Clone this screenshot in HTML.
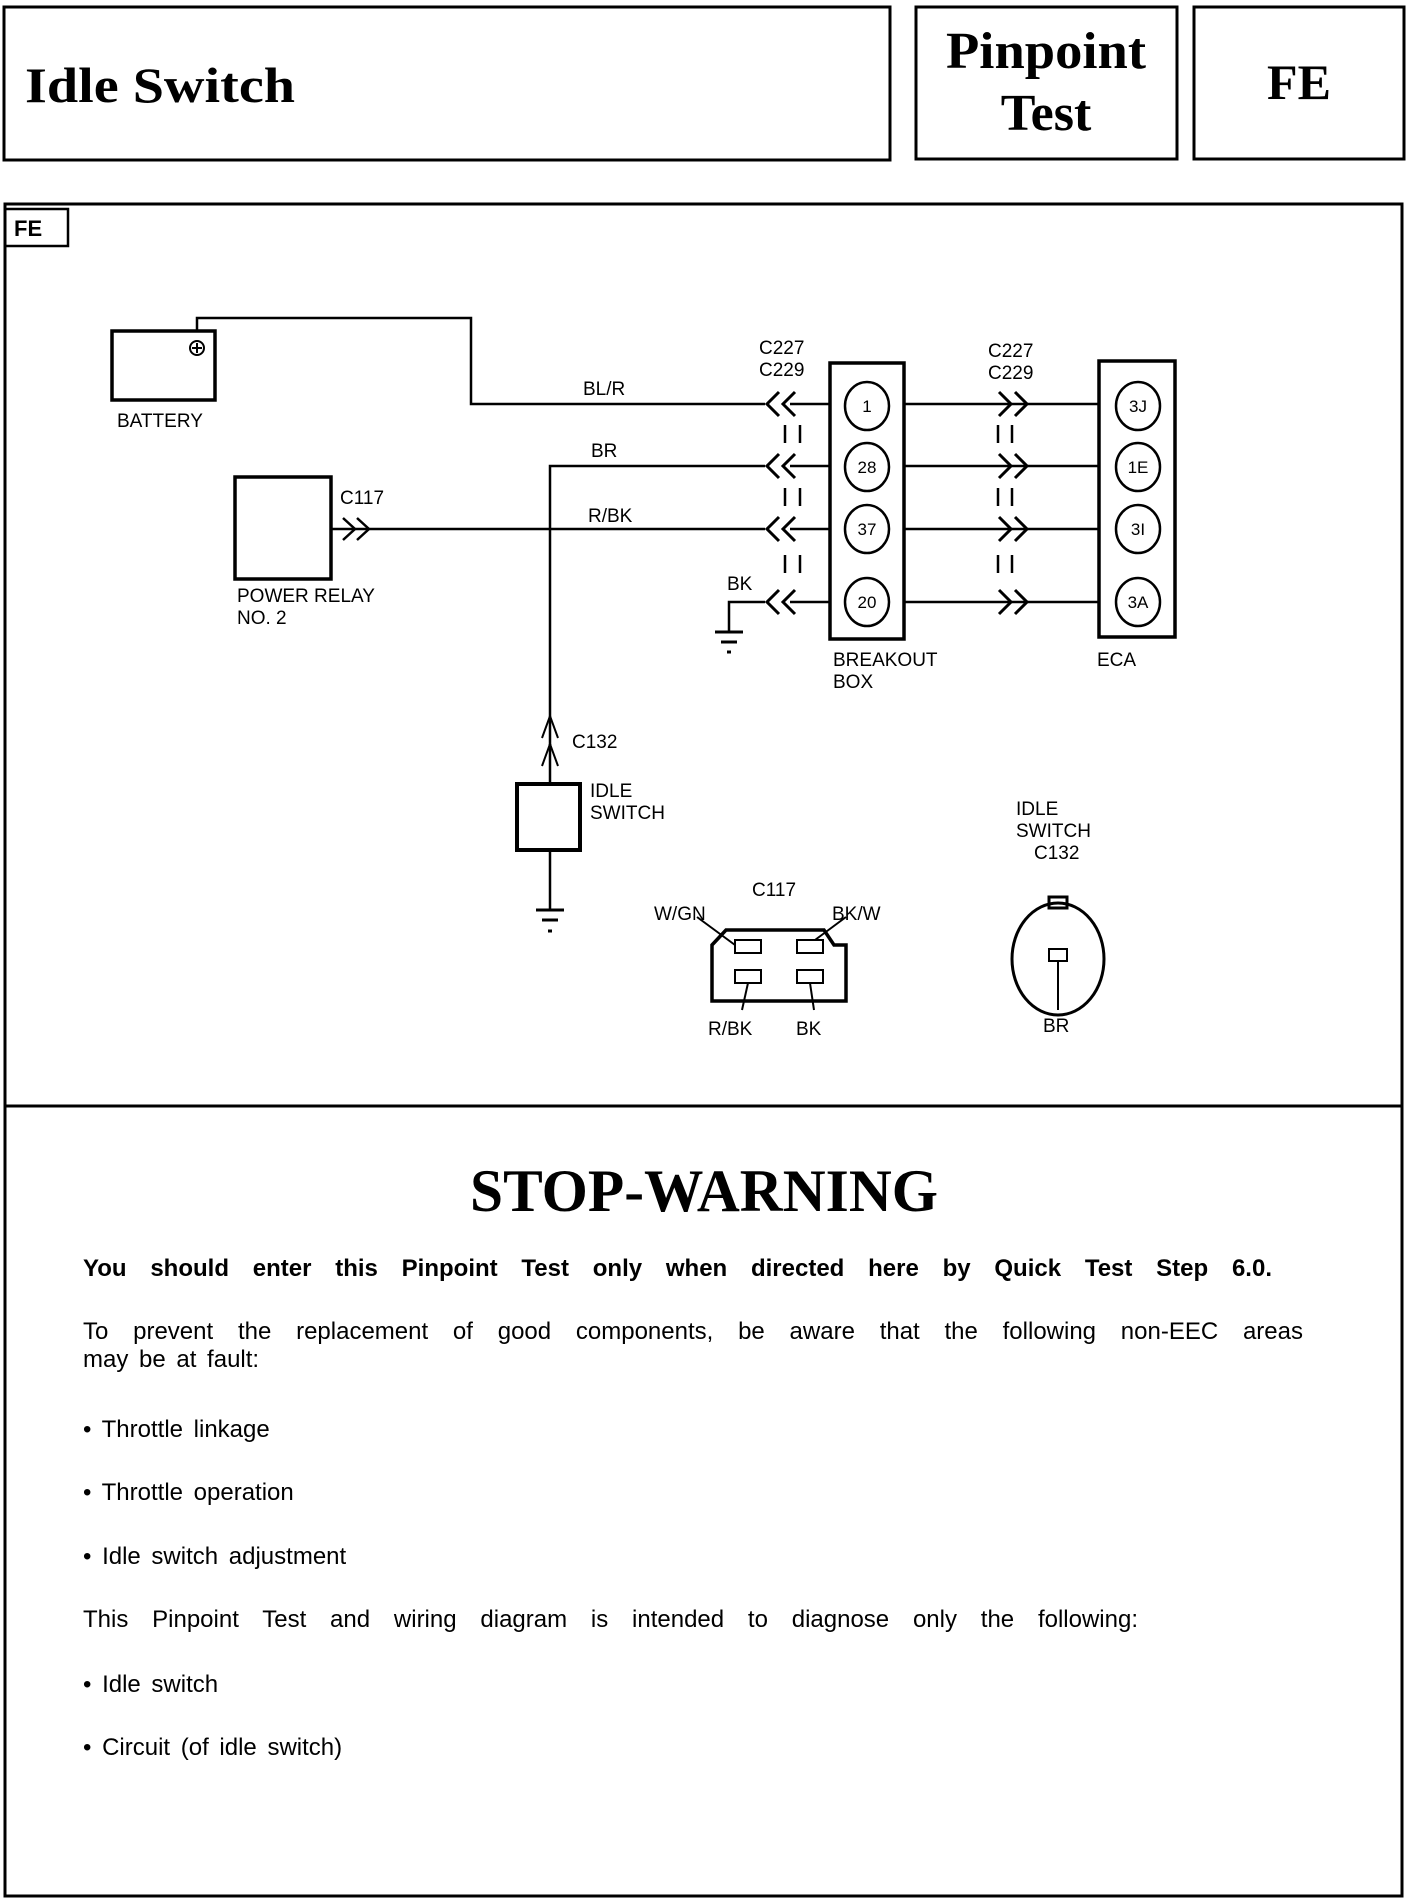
<!DOCTYPE html>
<html><head><meta charset="utf-8"><style>
html,body{margin:0;padding:0;background:#fff;}
body{width:1408px;height:1900px;position:relative;overflow:hidden;font-family:"Liberation Sans",sans-serif;color:#000;}
.t{position:absolute;white-space:nowrap;}
.j{position:absolute;text-align:justify;text-align-last:justify;white-space:nowrap;}
.p{font-size:24px;}
</style></head><body>
<svg width="1408" height="1900" style="position:absolute;left:0;top:0" font-family="Liberation Sans, sans-serif">
<g fill="none" stroke="#000">
<rect x="4" y="7" width="886" height="153" stroke-width="3"/>
<rect x="916" y="7" width="261" height="152" stroke-width="3"/>
<rect x="1194" y="7" width="210" height="152" stroke-width="3"/>
<rect x="5" y="204" width="1397" height="1692" stroke-width="3"/>
<line x1="5" y1="1106" x2="1402" y2="1106" stroke-width="3"/>
<rect x="5" y="209" width="63" height="37" stroke-width="2.5"/>
<rect x="112" y="331" width="103" height="69" stroke-width="3.5"/>
<circle cx="197" cy="348" r="7" stroke-width="2"/>
<line x1="192" y1="348" x2="202" y2="348" stroke-width="2"/><line x1="197" y1="343" x2="197" y2="353" stroke-width="2"/>
<polyline points="197,331 197,318 471,318 471,404 765,404" stroke-width="2.5"/>
<polyline points="550,750 550,466 765,466" stroke-width="2.5"/>
<rect x="235" y="477" width="96" height="102" stroke-width="3.5"/>
<line x1="331" y1="529" x2="765" y2="529" stroke-width="2.5"/>
<polyline points="343,518 355,529 343,540" stroke-width="2.5"/><polyline points="357,518 369,529 357,540" stroke-width="2.5"/>
<polyline points="729,631 729,602 765,602" stroke-width="2.5"/>
<line x1="715" y1="632" x2="743" y2="632" stroke-width="3"/>
<line x1="721" y1="642" x2="737" y2="642" stroke-width="3"/>
<line x1="727" y1="652" x2="731" y2="652" stroke-width="3"/>
<g stroke-width="3">
<polyline points="779,392 767,404 779,416"/><polyline points="795,392 783,404 795,416"/>
<polyline points="779,454 767,466 779,478"/><polyline points="795,454 783,466 795,478"/>
<polyline points="779,517 767,529 779,541"/><polyline points="795,517 783,529 795,541"/>
<polyline points="779,590 767,602 779,614"/><polyline points="795,590 783,602 795,614"/>
</g>
<g stroke-width="2.5">
<line x1="790" y1="404" x2="829" y2="404"/><line x1="790" y1="466" x2="829" y2="466"/>
<line x1="790" y1="529" x2="829" y2="529"/><line x1="790" y1="602" x2="829" y2="602"/>
<line x1="785" y1="425" x2="785" y2="443"/><line x1="800" y1="425" x2="800" y2="443"/>
<line x1="785" y1="488" x2="785" y2="506"/><line x1="800" y1="488" x2="800" y2="506"/>
<line x1="785" y1="555" x2="785" y2="573"/><line x1="800" y1="555" x2="800" y2="573"/>
</g>
<rect x="830" y="363" width="74" height="276" stroke-width="3.5"/>
<g stroke-width="2.5">
<ellipse cx="867" cy="406" rx="22" ry="24"/><ellipse cx="867" cy="467" rx="22" ry="24"/>
<ellipse cx="867" cy="529" rx="22" ry="24"/><ellipse cx="867" cy="602" rx="22" ry="24"/>
<line x1="904" y1="404" x2="1098" y2="404"/><line x1="904" y1="466" x2="1098" y2="466"/>
<line x1="904" y1="529" x2="1098" y2="529"/><line x1="904" y1="602" x2="1098" y2="602"/>
<line x1="998" y1="425" x2="998" y2="443"/><line x1="1012" y1="425" x2="1012" y2="443"/>
<line x1="998" y1="488" x2="998" y2="506"/><line x1="1012" y1="488" x2="1012" y2="506"/>
<line x1="998" y1="555" x2="998" y2="573"/><line x1="1012" y1="555" x2="1012" y2="573"/>
</g>
<g stroke-width="3">
<polyline points="999,392 1011,404 999,416"/><polyline points="1015,392 1027,404 1015,416"/>
<polyline points="999,454 1011,466 999,478"/><polyline points="1015,454 1027,466 1015,478"/>
<polyline points="999,517 1011,529 999,541"/><polyline points="1015,517 1027,529 1015,541"/>
<polyline points="999,590 1011,602 999,614"/><polyline points="1015,590 1027,602 1015,614"/>
</g>
<rect x="1099" y="361" width="76" height="276" stroke-width="3.5"/>
<g stroke-width="2.5">
<ellipse cx="1138" cy="406" rx="22" ry="24"/><ellipse cx="1138" cy="467" rx="22" ry="24"/>
<ellipse cx="1138" cy="529" rx="22" ry="24"/><ellipse cx="1138" cy="602" rx="22" ry="24"/>
</g>
<polyline points="542,738 550,716 558,738" stroke-width="2"/>
<polyline points="542,766 550,744 558,766" stroke-width="2"/>
<line x1="550" y1="744" x2="550" y2="783" stroke-width="2.5"/>
<rect x="517" y="784" width="63" height="66" stroke-width="4"/>
<line x1="550" y1="850" x2="550" y2="910" stroke-width="2.5"/>
<line x1="536" y1="910" x2="564" y2="910" stroke-width="3"/>
<line x1="542" y1="920" x2="558" y2="920" stroke-width="3"/>
<line x1="548" y1="931" x2="552" y2="931" stroke-width="3"/>
<path d="M712,1001 L712,945 L726,930 L824,930 L834,945 L846,945 L846,1001 Z" stroke-width="3.5"/>
<rect x="735" y="940" width="26" height="13" stroke-width="2"/>
<rect x="797" y="940" width="26" height="13" stroke-width="2"/>
<rect x="735" y="970" width="26" height="13" stroke-width="2"/>
<rect x="797" y="970" width="26" height="13" stroke-width="2"/>
<line x1="697" y1="917" x2="735" y2="945" stroke-width="2"/>
<line x1="846" y1="917" x2="815" y2="940" stroke-width="2"/>
<line x1="748" y1="983" x2="742" y2="1010" stroke-width="2"/>
<line x1="810" y1="983" x2="814" y2="1010" stroke-width="2"/>
<ellipse cx="1058" cy="959" rx="46" ry="56" stroke-width="3"/>
<rect x="1049" y="897" width="18" height="11" stroke-width="3"/>
<rect x="1049" y="949" width="18" height="12" stroke-width="2"/>
<line x1="1058" y1="961" x2="1058" y2="1010" stroke-width="2"/>
</g>
<g font-size="19" fill="#000">
<text x="117" y="427">BATTERY</text>
<text x="583" y="395">BL/R</text>
<text x="759" y="354">C227</text><text x="759" y="376">C229</text>
<text x="988" y="357">C227</text><text x="988" y="379">C229</text>
<text x="591" y="457">BR</text>
<text x="588" y="522">R/BK</text>
<text x="727" y="590">BK</text>
<text x="340" y="504">C117</text>
<text x="237" y="602">POWER RELAY</text><text x="237" y="624">NO. 2</text>
<text x="833" y="666">BREAKOUT</text><text x="833" y="688">BOX</text>
<text x="1097" y="666">ECA</text>
<text x="572" y="748">C132</text>
<text x="590" y="797">IDLE</text><text x="590" y="819">SWITCH</text>
<text x="1016" y="815">IDLE</text><text x="1016" y="837">SWITCH</text><text x="1034" y="859">C132</text>
<text x="752" y="896">C117</text>
<text x="654" y="920">W/GN</text><text x="832" y="920">BK/W</text>
<text x="708" y="1035">R/BK</text><text x="796" y="1035">BK</text>
<text x="1043" y="1032">BR</text>
</g>
<g font-size="17" text-anchor="middle" fill="#000">
<text x="867" y="412">1</text><text x="867" y="473">28</text><text x="867" y="535">37</text><text x="867" y="608">20</text>
<text x="1138" y="412">3J</text><text x="1138" y="473">1E</text><text x="1138" y="535">3I</text><text x="1138" y="608">3A</text>
</g>
<g font-family="Liberation Serif, serif" font-weight="bold" fill="#000">
<text x="25" y="102" font-size="50" textLength="270" lengthAdjust="spacingAndGlyphs">Idle Switch</text>
<text x="1046" y="68" font-size="52" text-anchor="middle" textLength="200" lengthAdjust="spacingAndGlyphs">Pinpoint</text>
<text x="1046" y="130" font-size="52" text-anchor="middle">Test</text>
<text x="1299" y="99" font-size="50" text-anchor="middle">FE</text>
<text x="704" y="1211" font-size="60" text-anchor="middle" textLength="468" lengthAdjust="spacingAndGlyphs">STOP-WARNING</text>
</g>
<text x="14" y="236" font-size="22" font-weight="bold">FE</text>
</svg>
<div class="j p" style="left:83px;top:1255px;width:1189px;font-weight:bold;">You should enter this Pinpoint Test only when directed here by Quick Test Step 6.0.</div>
<div class="j p" style="left:83px;top:1318px;width:1220px;">To prevent the replacement of good components, be aware that the following non-EEC areas</div>
<div class="t p" style="left:83px;top:1346px;word-spacing:4px;">may be at fault:</div>
<div class="t p" style="left:83px;top:1416px;word-spacing:4px;">• Throttle linkage</div>
<div class="t p" style="left:83px;top:1479px;word-spacing:4px;">• Throttle operation</div>
<div class="t p" style="left:83px;top:1543px;word-spacing:4px;">• Idle switch adjustment</div>
<div class="j p" style="left:83px;top:1606px;width:1055px;">This Pinpoint Test and wiring diagram is intended to diagnose only the following:</div>
<div class="t p" style="left:83px;top:1671px;word-spacing:4px;">• Idle switch</div>
<div class="t p" style="left:83px;top:1734px;word-spacing:4px;">• Circuit (of idle switch)</div>
</body></html>
